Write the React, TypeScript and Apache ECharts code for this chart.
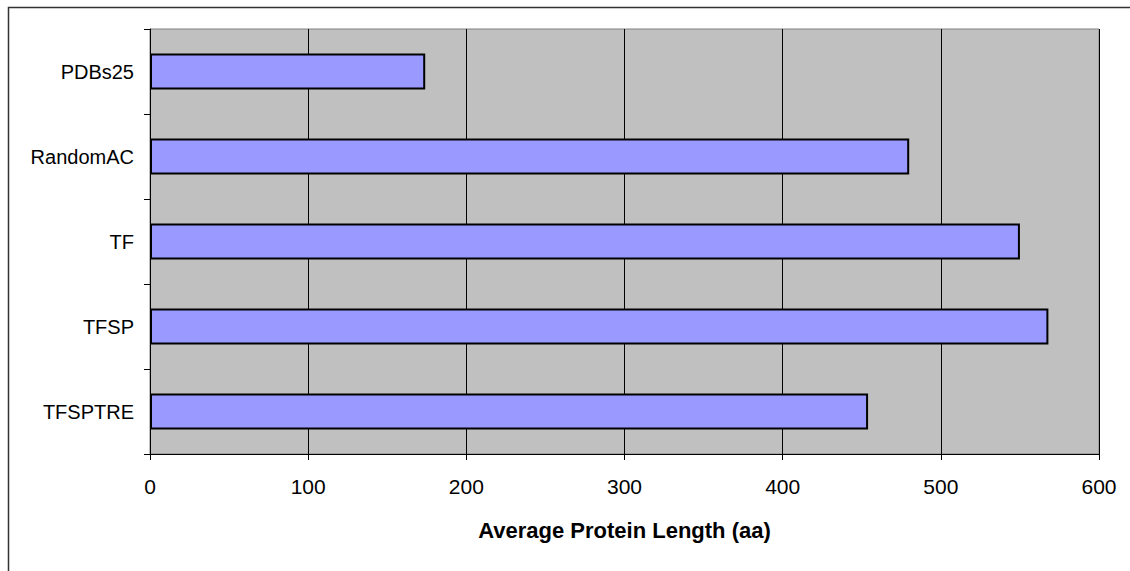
import React, { useEffect, useRef } from "react";
import * as echarts from "echarts";

// Average protein length per data set (amino acids)
const categories = ["PDBs25", "RandomAC", "TF", "TFSP", "TFSPTRE"];
const avgLength = [174, 480, 550, 568, 454];
const axisTitle = "Average Protein Length (aa)";

const FONT = "'Liberation Sans', Arial, Helvetica, sans-serif";

export default function App() {
  const ref = useRef<HTMLDivElement>(null);

  useEffect(() => {
    if (!ref.current) return;
    const chart = echarts.init(ref.current, undefined, { renderer: "svg" });
    chart.setOption({
      animation: false,
      backgroundColor: "#ffffff",
      textStyle: { fontFamily: FONT },
      graphic: [
        {
          type: "rect",
          shape: { x: 8.5, y: 7.5, width: 1140, height: 600 },
          style: { fill: "none", stroke: "#333333", lineWidth: 1.5 },
          silent: true,
          z: 100,
        },
      ],
      grid: {
        left: 150,
        right: 31,
        top: 29,
        bottom: 117,
        show: true,
        backgroundColor: "#C0C0C0",
        borderColor: "#808080",
        borderWidth: 1,
      },
      xAxis: {
        type: "value",
        min: 0,
        max: 600,
        interval: 100,
        name: axisTitle,
        nameLocation: "middle",
        nameGap: 65,
        nameTextStyle: {
          fontFamily: FONT,
          fontSize: 22,
          fontWeight: "bold",
          color: "#000",
        },
        axisLine: { show: true, lineStyle: { color: "#000", width: 1 } },
        axisTick: { show: true, length: 6, lineStyle: { color: "#000" } },
        axisLabel: {
          margin: 22,
          fontFamily: FONT,
          fontSize: 21,
          color: "#000",
        },
        splitLine: { show: true, lineStyle: { color: "#000", width: 1 } },
      },
      yAxis: {
        type: "category",
        data: categories,
        inverse: true,
        axisLine: { show: true, lineStyle: { color: "#000", width: 1 } },
        axisTick: { show: true, length: 6, lineStyle: { color: "#000" } },
        axisLabel: {
          margin: 16,
          fontFamily: FONT,
          fontSize: 20,
          color: "#000",
        },
        splitLine: { show: false },
      },
      series: [
        {
          type: "bar",
          data: avgLength,
          barWidth: 36,
          itemStyle: {
            color: "#9999FF",
            borderColor: "#000",
            borderWidth: 2,
          },
        },
      ],
    });
    return () => chart.dispose();
  }, []);

  return (
    <div
      ref={ref}
      style={{ position: "fixed", left: 0, top: 0, width: 1130, height: 571 }}
    />
  );
}
